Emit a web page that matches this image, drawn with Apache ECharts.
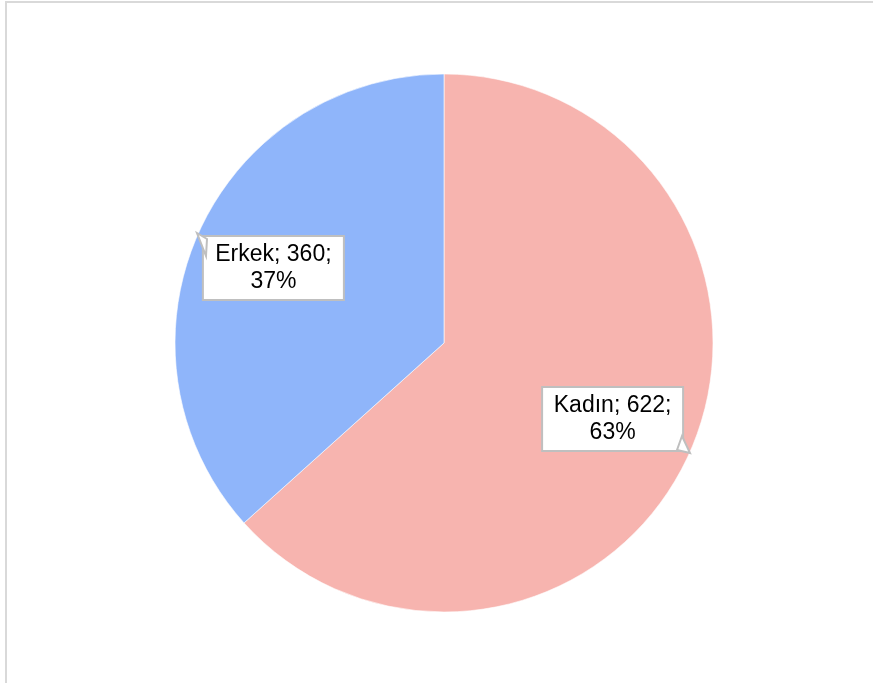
<!DOCTYPE html>
<html>
<head>
<meta charset="utf-8">
<script src="https://cdn.jsdelivr.net/npm/echarts@6/dist/echarts.min.js"></script>
<style>
html,body{margin:0;padding:0;background:#fff;}
#c{width:873px;height:683px;}
</style>
</head>
<body>
<div id="c"></div>
<script>
const categories = ['Kadın', 'Erkek'];
const values = [622, 360];
const colors = ['#F7B4AF', '#8FB5FA'];

const chart = echarts.init(document.getElementById('c'), null, {renderer: 'canvas'});
const data = categories.map((n, i) => ({name: n, value: values[i], itemStyle: {color: colors[i]}}));
const labelOffsets = [[43, 20], [-45, -19]];

chart.setOption({
  backgroundColor: '#ffffff',
  animation: false,
  graphic: [
    {type: 'rect', z: 0, shape: {x: 6, y: 2, width: 900, height: 720},
     style: {fill: 'none', stroke: '#d9d9d9', lineWidth: 2}},
    {type: 'polygon', z: 100, shape: {points: [[207, 239], [197, 233], [206, 256]]},
     style: {fill: '#fff', stroke: '#bfbfbf', lineWidth: 2}},
    {type: 'polygon', z: 100, shape: {points: [[682, 436], [690, 453], [677, 450]]},
     style: {fill: '#fff', stroke: '#bfbfbf', lineWidth: 2}}
  ],
  series: [{
    type: 'pie',
    center: [444, 343],
    radius: 269,
    startAngle: 90,
    clockwise: true,
    percentPrecision: 0,
    data: data,
    itemStyle: {borderColor: 'rgba(255,255,255,0.6)', borderWidth: 1},
    label: {
      show: true,
      position: 'inside',
      formatter: '{b}; {c};\n{d}%',
      fontFamily: 'Liberation Sans, Arial, sans-serif',
      fontSize: 23,
      lineHeight: 27,
      color: '#000',
      align: 'center',
      backgroundColor: '#ffffff',
      borderColor: '#bfbfbf',
      borderWidth: 2,
      padding: [5, 9, 3, 9],
      width: 121
    },
    labelLine: {show: false},
    labelLayout: function (p) {
      const o = labelOffsets[p.dataIndex];
      return {dx: o[0], dy: o[1]};
    },
    emphasis: {disabled: true}
  }]
});
</script>
</body>
</html>
